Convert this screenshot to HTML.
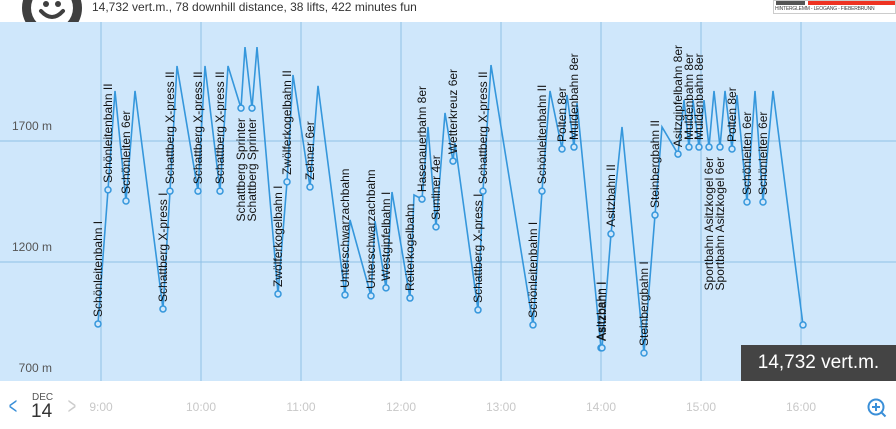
<!DOCTYPE html>
<html><head><meta charset="utf-8"><style>
body{margin:0;width:896px;height:429px;overflow:hidden;background:#fff;font-family:"Liberation Sans",Arial,sans-serif;position:relative}
.abs{position:absolute}
</style></head><body>
<div class="abs" style="left:22px;top:-22px;width:60px;height:60px">
<svg width="60" height="60" viewBox="0 0 60 60"><circle cx="30" cy="30" r="30" fill="#3f3f3f"/><circle cx="30" cy="30" r="21" fill="#fff"/><circle cx="24" cy="26" r="3" fill="#3f3f3f"/><circle cx="36" cy="26" r="3" fill="#3f3f3f"/><path d="M19 33 Q30 45 41 33" stroke="#3f3f3f" stroke-width="4" fill="none" stroke-linecap="round"/></svg></div>
<div class="abs" style="left:92px;top:0px;font-size:12px;color:#333">14,732 vert.m., 78 downhill distance, 38 lifts, 422 minutes fun</div>
<div class="abs" style="left:773px;top:0;width:123px;height:14px;background:#fff;border:1px solid #ccc;box-sizing:border-box">
<div class="abs" style="left:2px;top:0;width:29px;height:4px;background:#555"></div>
<div class="abs" style="left:34px;top:0;width:87px;height:4px;background:#e32"></div>
<div class="abs" style="left:1px;top:5px;font-size:5px;color:#444;white-space:nowrap;letter-spacing:-0.2px">HINTERGLEMM - LEOGANG - FIEBERBRUNN</div></div>
<svg class="abs" style="left:0;top:0" width="896" height="429">
<rect x="0" y="22" width="896" height="359" fill="#cfe7fb"/>
<g id="grid"></g><g id="series"></g><g id="labels"></g><g id="xt"></g>
</svg>
<div class="abs" style="left:741px;top:345px;width:155px;height:36px;background:#444;color:#fff;font-size:19px;line-height:36px;text-align:center">14,732 vert.m.</div>
<div class="abs" style="left:6px;top:393px;font-size:24px;color:#3a8fd8;transform:scaleX(0.6)">&lt;</div>
<div class="abs" style="left:32px;top:392px;font-size:10px;color:#555">DEC</div>
<div class="abs" style="left:31px;top:401px;font-size:19px;color:#333">14</div>
<div class="abs" style="left:65px;top:393px;font-size:24px;color:#ccc;transform:scaleX(0.6)">&gt;</div>
<svg class="abs" style="left:866px;top:397px" width="22" height="22"><circle cx="10" cy="10" r="7.5" stroke="#3a8fd8" stroke-width="2" fill="none"/><path d="M10 6v8M6 10h8M15.5 15.5l4 4" stroke="#3a8fd8" stroke-width="2"/></svg>
<script>
const hours=[8.97,9.07,9.14,9.25,9.34,9.62,9.69,9.76,9.97,10.04,10.19,10.27,10.40,10.44,10.51,10.56,10.77,10.86,10.92,11.09,11.17,11.44,11.49,11.70,11.74,11.85,11.91,12.09,12.13,12.21,12.27,12.35,12.44,12.52,12.54,12.77,12.82,12.90,13.32,13.41,13.49,13.61,13.66,13.73,13.76,14.00,14.01,14.10,14.21,14.43,14.54,14.61,14.77,14.83,14.88,14.92,14.98,15.03,15.08,15.13,15.19,15.24,15.31,15.36,15.46,15.54,15.62,15.72,16.02];
const altitudes=[944,1498,1907,1452,1907,1006,1493,2010,1493,2010,1493,2010,1836,2088,1836,2088,1068,1531,1973,1510,1928,1064,1374,1060,1369,1093,1489,1051,1477,1460,1758,1345,1816,1617,1692,1002,1493,2014,940,1493,1907,1667,1890,1675,1857,845,845,1316,1758,824,1394,1758,1646,1869,1675,1869,1675,1869,1675,1907,1675,1907,1667,1890,1448,1907,1448,1907,940];
const liftNames=["Schönleitenbahn I","Schönleitenbahn II","","Schönleiten 6er","","Schattberg X-press I","Schattberg X-press II","","Schattberg X-press II","","Schattberg X-press II","","Schattberg Sprinter","","Schattberg Sprinter","","Zwölferkogelbahn I","Zwölferkogelbahn II","","Zehner 6er","","Unterschwarzachbahn","","Unterschwarzachbahn","","Westgipfelbahn I","","Reiterkogelbahn","","Hasenauerbahn 8er","","Sunliner 4er","","Wetterkreuz 6er","","Schattberg X-press I","Schattberg X-press II","","Schönleitenbahn I","Schönleitenbahn II","","Polten 8er","","Muldenbahn 8er","","Asitzbahn I","Asitzbahn I","Asitzbahn II","","Steinbergbahn I","Steinbergbahn II","","Asitzgipfelbahn 8er","","Muldenbahn 8er","","Muldenbahn 8er","","Sportbahn Asitzkogel 6er","","Sportbahn Asitzkogel 6er","","Polten 8er","","Schönleiten 6er","","Schönleiten 6er","","END"];
const yTicks=[700,1200,1700];
const xTicks=["9:00","10:00","11:00","12:00","13:00","14:00","15:00","16:00"];
const NS="http://www.w3.org/2000/svg";
const X=h=>101+(h-9)*100;
const Y=a=>141+(1700-a)*0.242;
function mk(t,p,at){const e=document.createElementNS(NS,t);for(const k in at)e.setAttribute(k,at[k]);p.appendChild(e);return e;}
const grid=document.getElementById('grid'),ser=document.getElementById('series'),lab=document.getElementById('labels'),xt=document.getElementById('xt');
yTicks.forEach(v=>{
 if(v>700){const l=mk('line',grid,{x1:0,x2:896,y1:Y(v),y2:Y(v),stroke:'#8fc0e6','stroke-width':1});
 
 }
 const t=mk('text',grid,{x:52,y:Y(v)-11,'text-anchor':'end','font-size':12,fill:'#555'});
 t.textContent=v+' m';
 
 
});
xTicks.forEach((s,i)=>{
 const x=X(9+i);
 const l=mk('line',grid,{x1:x,x2:x,y1:22,y2:381,stroke:'#8fc0e6','stroke-width':1});
 
 
 const t=mk('text',xt,{x:x,y:411,'text-anchor':'middle','font-size':12,fill:'#c8c8c8'});
 t.textContent=s;
 
 
});
const pts=hours.map((h,i)=>X(h)+','+Y(altitudes[i])).join(' ');
const pl=mk('polyline',ser,{points:pts,fill:'none',stroke:'#3597dc','stroke-width':1.6});


hours.forEach((h,i)=>{
 const n=liftNames[i];if(!n)return;
 const x=X(h),y=Y(altitudes[i]);
 const c=mk('circle',ser,{cx:x,cy:y,r:3,fill:'#cfe7fb',stroke:'#3597dc','stroke-width':1.5});
 
 
 if(n==='END')return;
 const t=mk('text',lab,{'font-size':12,fill:'#111'});
 t.textContent=n;
 
 
 const len=t.getComputedTextLength();
 if(y-7-len<28){
   t.setAttribute('text-anchor','end');
   t.setAttribute('transform','translate('+(x+4)+','+(y+10)+') rotate(-90)');
 } else {
   t.setAttribute('text-anchor','start');
   t.setAttribute('transform','translate('+(x+4)+','+(y-7)+') rotate(-90)');
 }
});
</script>
</body></html>
